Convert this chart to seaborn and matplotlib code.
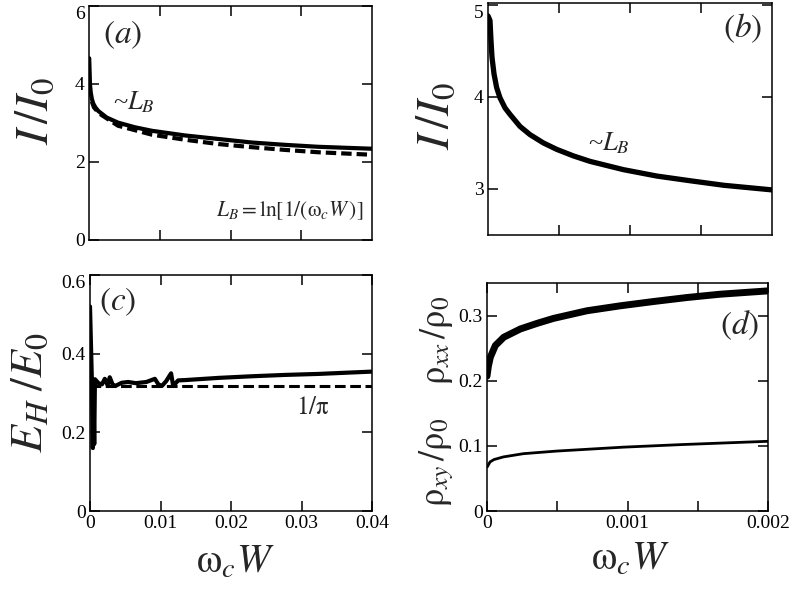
import numpy as np
import pandas as pd
import matplotlib
matplotlib.use("Agg")
import matplotlib.pyplot as plt
import seaborn as sns

# panel (a): I/I0 vs omega_c W, solid and dashed curves
a_x_solid = [0.00003, 0.00014, 0.00025, 0.0004, 0.0006, 0.0009, 0.0013, 0.0025,
             0.0041, 0.0065, 0.0089, 0.0136, 0.0183, 0.023, 0.0277, 0.0324, 0.04]
a_y_solid = [4.66, 3.99, 3.78, 3.62, 3.50, 3.40, 3.31, 3.14,
             3.01, 2.89, 2.80, 2.68, 2.59, 2.50, 2.44, 2.39, 2.34]
a_x_dash = [0.0004, 0.0007, 0.0014, 0.0041, 0.0089, 0.0136, 0.0183, 0.023,
            0.0277, 0.0324, 0.0395]
a_y_dash = [3.55, 3.40, 3.25, 2.93, 2.70, 2.57, 2.46, 2.38, 2.31, 2.25, 2.19]

# panel (b): zoom on small omega_c W
b_x = [0.0, 0.000014, 0.0000211, 0.0000282, 0.0000423, 0.000061, 0.0000845,
       0.00012, 0.000155, 0.000225, 0.000296, 0.00039, 0.000484, 0.0006,
       0.000718, 0.000953, 0.00119, 0.00142, 0.00166, 0.002]
b_y = [4.88, 4.83, 4.61, 4.43, 4.25, 4.10, 3.99,
       3.88, 3.81, 3.68, 3.59, 3.50, 3.43, 3.36,
       3.30, 3.21, 3.14, 3.09, 3.04, 2.99]

# panel (c): Hall field, noisy near zero, plus 1/pi reference
c_x = [0.0, 0.00025, 0.0004, 0.0005, 0.0006, 0.0007, 0.0012, 0.0017, 0.0021,
       0.0025, 0.0028, 0.0032, 0.0036, 0.0045, 0.0054, 0.0065, 0.0080, 0.0092,
       0.0097, 0.0102, 0.0108, 0.0115, 0.0118, 0.0125, 0.0136, 0.0183, 0.0230,
       0.0277, 0.0324, 0.040]
c_y = [0.52, 0.344, 0.16, 0.30, 0.17, 0.335, 0.325, 0.322, 0.336,
       0.320, 0.340, 0.322, 0.318, 0.326, 0.328, 0.325, 0.328, 0.336,
       0.322, 0.318, 0.330, 0.350, 0.318, 0.332, 0.333, 0.3385, 0.3426,
       0.346, 0.3485, 0.3544]
c_x_ref = [0.0, 0.04]
c_y_ref = [1 / np.pi, 1 / np.pi]

# panel (d): rho_xx and rho_xy
d_x_xx = [0.0, 0.0000095, 0.0000237, 0.0000593, 0.000119, 0.000237, 0.000356,
          0.000474, 0.000712, 0.000949, 0.001186, 0.001423, 0.00166, 0.002]
d_y_xx = [0.207, 0.222, 0.236, 0.254, 0.2667, 0.2794, 0.288,
          0.2957, 0.3074, 0.315, 0.3216, 0.3277, 0.3328, 0.3379]
d_x_xy = [0.000002, 0.0000214, 0.00005, 0.000116, 0.000259, 0.000496, 0.00097,
          0.00139, 0.002]
d_y_xy = [0.0677, 0.0753, 0.079, 0.083, 0.088, 0.092, 0.098, 0.102, 0.107]

sns.set_theme(style="ticks")
plt.rcParams['font.family'] = ['Liberation Serif', 'DejaVu Serif']
plt.rcParams['mathtext.fontset'] = 'stix'
plt.rcParams['axes.linewidth'] = 1.1
plt.rcParams['axes.edgecolor'] = 'black'

W, H = 790, 597
fig = plt.figure(figsize=(W / 100, H / 100), dpi=100)


def px_axes(l, t, r, b):
    return fig.add_axes([l / W, 1 - b / H, (r - l) / W, (b - t) / H])


def ftext(x, y, s, **kw):
    kw.setdefault('ha', 'center')
    kw.setdefault('va', 'center')
    fig.text(x / W, 1 - y / H, s, **kw)


ax_a = px_axes(89, 6, 372, 240)
ax_b = px_axes(488, 3, 772, 235)
ax_c = px_axes(90, 275, 372, 511)
ax_d = px_axes(487, 283, 768, 511)

# (a)
sns.lineplot(x=a_x_solid, y=a_y_solid, ax=ax_a, color='black', lw=3)
sns.lineplot(x=a_x_dash, y=a_y_dash, ax=ax_a, color='black', lw=3,
             linestyle=(0, (2.5, 1.2)))
ax_a.set_xlim(0, 0.04)
ax_a.set_ylim(0, 6)
ax_a.set_xticks([0.01, 0.02, 0.03])
ax_a.set_xticklabels([])
ax_a.set_yticks([0, 2, 4, 6])

# (b)
sns.lineplot(x=b_x, y=b_y, ax=ax_b, color='black', lw=3.8)
ax_b.set_xlim(0, 0.002)
ax_b.set_ylim(2.5, 5.02)
ax_b.set_xticks([0.0005, 0.001, 0.0015])
ax_b.set_xticklabels([])
ax_b.set_yticks([3, 4, 5])

# (c)
sns.lineplot(x=c_x, y=c_y, ax=ax_c, color='black', lw=3)
sns.lineplot(x=c_x_ref, y=c_y_ref, ax=ax_c, color='black', lw=2.2,
             linestyle=(0, (3.5, 1.5)))
ax_c.set_xlim(0, 0.04)
ax_c.set_ylim(0, 0.6)
ax_c.set_xticks([0, 0.01, 0.02, 0.03, 0.04])
ax_c.set_xticklabels(['0', '0.01', '0.02', '0.03', '0.04'])
ax_c.set_yticks([0, 0.2, 0.4, 0.6])
ax_c.set_yticklabels(['0', '0.2', '0.4', '0.6'])

# (d)
sns.lineplot(x=d_x_xx, y=d_y_xx, ax=ax_d, color='black', lw=5)
sns.lineplot(x=d_x_xy, y=d_y_xy, ax=ax_d, color='black', lw=2)
ax_d.set_xlim(0, 0.002)
ax_d.set_ylim(0, 0.35)
ax_d.set_xticks([0, 0.0005, 0.001, 0.0015, 0.002])
ax_d.set_xticklabels(['0', '', '0.001', '', '0.002'])
ax_d.set_yticks([0, 0.1, 0.2, 0.3])
ax_d.set_yticklabels(['0', '0.1', '0.2', '0.3'])

for ax in (ax_a, ax_b, ax_c, ax_d):
    ax.tick_params(direction='in', length=7, width=1.1, top=True, right=True,
                   labelsize=14, pad=3, colors='black')
    ax.set_xlabel('')
    ax.set_ylabel('')
    for sp in ax.spines.values():
        sp.set_color('black')
        sp.set_linewidth(1.1)

# top tick labels sit just under the frame edge
for ax in (ax_a, ax_b, ax_c):
    ax.get_yticklabels()[-1].set_va('top')

# panel tags
ftext(123, 35, r'$(a)$', fontsize=24)
ftext(743, 28, r'$(b)$', fontsize=24)
ftext(118, 302, r'$(c)$', fontsize=24)
ftext(740, 325, r'$(d)$', fontsize=24)

# annotations
ftext(134, 102, r'~$L_B$', fontsize=19)
ftext(363, 211, r'$L_B = \mathrm{ln}[1/(\mathrm{\omega}_c W\,)]$', fontsize=15.5, ha='right')
ftext(609, 143, r'~$L_B$', fontsize=19)
ftext(313, 408, r'$1/\mathrm{\pi}$', fontsize=18)

# axis labels
ftext(36, 111, r'$I\,/I_0$', fontsize=34, rotation=90)
ftext(437, 116, r'$I\,/I_0$', fontsize=34, rotation=90)
ftext(31, 393, r'$E_H\;/E_0$', fontsize=33, rotation=90)
ftext(437, 340, r'$\mathrm{\rho}_{xx}\,/\mathrm{\rho}_0$', fontsize=26, rotation=90)
ftext(437, 462, r'$\mathrm{\rho}_{xy}\,/\mathrm{\rho}_0$', fontsize=26, rotation=90)
ftext(235, 573, r'$\mathrm{\omega}_c W$', fontsize=29, va='baseline')
ftext(630, 570, r'$\mathrm{\omega}_c W$', fontsize=29, va='baseline')

fig.savefig('out.png', dpi=100)
